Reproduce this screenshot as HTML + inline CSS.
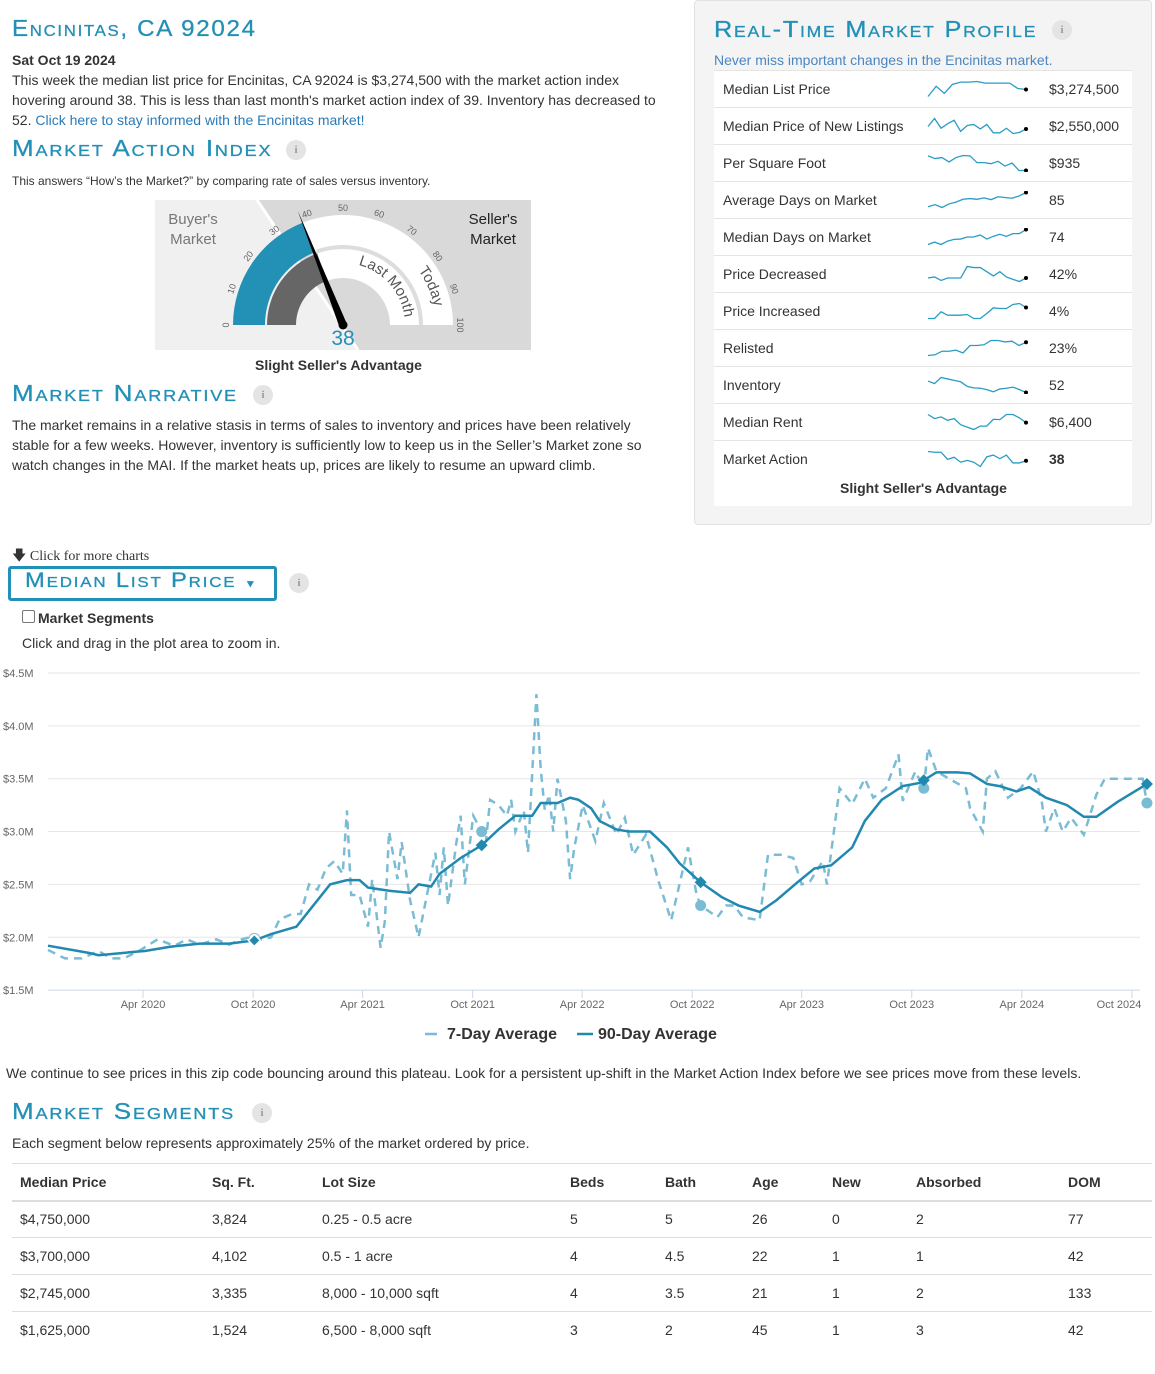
<!DOCTYPE html>
<html><head><meta charset="utf-8"><style>
body{margin:0;width:1155px;height:1374px;position:relative;background:#fff;font-family:"Liberation Sans",sans-serif;color:#333;overflow:hidden}
.a{position:absolute;white-space:nowrap}
.h{position:absolute;white-space:nowrap;color:#2390b6;font-variant:small-caps;font-size:23px;letter-spacing:1.6px;font-family:"Liberation Sans",sans-serif;transform-origin:left center;transform:scaleX(1.1);-webkit-text-stroke:0.3px #2390b6}
.p{font-size:14px;line-height:20px}
.lnk{color:#2a7ab8}
.info{position:absolute;width:20px;height:20px;border-radius:50%;background:#e4e4e4;color:#999;font:bold 11px "Liberation Serif",serif;text-align:center;line-height:20px}
table{border-collapse:collapse}
</style></head><body>

<div class="h" style="left:12px;top:15px;transform:scaleX(1.05)">Encinitas, CA 92024</div>
<div class="a p" style="left:12px;top:50px;font-weight:bold">Sat Oct 19 2024</div>
<div class="a p" style="left:12px;top:70px;white-space:normal;width:660px">This week the median list price for Encinitas, CA 92024 is $3,274,500 with the market action index hovering around 38. This is less than last month's market action index of 39. Inventory has decreased to 52. <span class="lnk">Click here to stay informed with the Encinitas market!</span></div>

<div class="h" style="left:12px;top:135px;transform:scaleX(1.13)">Market Action Index</div>
<div class="info" style="left:286px;top:140px">i</div>
<div class="a" style="left:12px;top:174px;font-size:12px">This answers “How’s the Market?” by comparing rate of sales versus inventory.</div>

<svg class="a" style="left:0;top:0" width="700" height="380" id="gauge"></svg>
<div class="a" style="left:255px;top:357px;font-size:14px;font-weight:bold">Slight Seller's Advantage</div>

<div class="h" style="left:12px;top:380px;transform:scaleX(1.13)">Market Narrative</div>
<div class="info" style="left:253px;top:385px">i</div>
<div class="a p" style="left:12px;top:415px;white-space:normal;width:635px">The market remains in a relative stasis in terms of sales to inventory and prices have been relatively stable for a few weeks. However, inventory is sufficiently low to keep us in the Seller’s Market zone so watch changes in the MAI. If the market heats up, prices are likely to resume an upward climb.</div>

<!-- Right panel -->
<div class="a" style="left:694px;top:0px;width:456px;height:523px;background:#f4f4f4;border:1px solid #e2e2e2;border-radius:4px"></div>
<div class="h" style="left:714px;top:16px;">Real-Time Market Profile</div>
<div class="info" style="left:1052px;top:20px">i</div>
<div class="a" style="left:714px;top:52px;font-size:14px;color:#4a86c0">Never miss important changes in the Encinitas market.</div>
<div class="a" style="left:714px;top:70px;width:418px;height:436px;background:#fff"></div>
<div id="profileRows"></div>
<div class="a" style="left:840px;top:480px;font-size:14px;font-weight:bold">Slight Seller's Advantage</div>

<!-- chart controls -->
<div class="a" style="left:12px;top:545px;font:14px 'Liberation Serif',serif">🡇 Click for more charts</div>
<div class="a" style="left:8px;top:566px;width:263px;height:29px;border:3px solid #2390b6;border-radius:3px"></div>
<div class="h" style="left:25px;top:569px;font-size:21px;transform:scaleX(1.13)">Median List Price <span style="font-size:10px">▼</span></div>
<div class="info" style="left:289px;top:573px">i</div>
<div class="a" style="left:22px;top:610px;width:11px;height:11px;border:1px solid #777;border-radius:2px;background:#fff"></div>
<div class="a" style="left:38px;top:610px;font-size:14px;font-weight:bold">Market Segments</div>
<div class="a" style="left:22px;top:635px;font-size:14px">Click and drag in the plot area to zoom in.</div>

<svg class="a" style="left:0;top:660px" width="1155" height="400" id="chart"></svg>

<div class="a p" style="left:6px;top:1063px">We continue to see prices in this zip code bouncing around this plateau. Look for a persistent up-shift in the Market Action Index before we see prices move from these levels.</div>

<div class="h" style="left:12px;top:1098px;transform:scaleX(1.13)">Market Segments</div>
<div class="info" style="left:252px;top:1103px">i</div>
<div class="a p" style="left:12px;top:1133px">Each segment below represents approximately 25% of the market ordered by price.</div>

<div class="a" style="left:12px;top:1163px;width:1140px" id="segTable"></div>

<script>
// ---------- Gauge ----------
const gaugeToday = 38;
const gaugeLastMonth = 39;
const gaugeTicks = [0,10,20,30,40,50,60,70,80,90,100];
(function(){
  const s = document.getElementById('gauge');
  const NS='http://www.w3.org/2000/svg';
  const cx=343, cy=325;
  function mk(t,at){const e=document.createElementNS(NS,t);for(const k in at)e.setAttribute(k,at[k]);s.appendChild(e);return e;}
  function pt(r,v){const th=Math.PI*(1-v/100);return [cx+r*Math.cos(th), cy-r*Math.sin(th)];}
  function band(r1,r2,v1,v2,fill,name){
    const a=pt(r2,v1),b=pt(r2,v2),c=pt(r1,v2),d=pt(r1,v1);
    const e=mk('path',{d:`M${a} A${r2},${r2} 0 0 1 ${b} L${c} A${r1},${r1} 0 0 0 ${d} Z`,fill:fill});
    
    
    return e;
  }
  const bl=mk('polygon',{points:'155,200 257,200 358,350 155,350',fill:'#f0f0f0'});
  
  
  const br=mk('polygon',{points:'257,200 531,200 531,350 358,350',fill:'#d9d9d9'});
  
  
  mk('line',{x1:257,y1:200,x2:358,y2:350,stroke:'#fff','stroke-width':3});
  band(78,110,0,gaugeToday,'#2390b6','today-arc');
  band(78,110,gaugeToday,100,'#fff','today-track');
  band(47,76,0,gaugeLastMonth,'#666','last-month-arc');
  band(47,76,gaugeLastMonth,100,'#fff','last-month-track');
  band(76,80,gaugeLastMonth,100,'#ddd','track-separator');
  gaugeTicks.forEach(v=>{
    const p=pt(117,v);
    const t=mk('text',{x:p[0],y:p[1]+3,'font-size':9,fill:'#666','text-anchor':'middle',transform:`rotate(${v*1.8-90} ${p[0]} ${p[1]})`});
    t.textContent=v;
    
    
  });
  const pA=pt(62,58),pB=pt(62,98);
  mk('path',{id:'lmArc',d:`M${pA} A62,62 0 0 1 ${pB}`,fill:'none'});
  const qA=pt(93,80),qB=pt(93,99);
  mk('path',{id:'tdArc',d:`M${qA} A93,93 0 0 1 ${qB}`,fill:'none'});
  const t1=mk('text',{'font-size':15,fill:'#555'});
  t1.innerHTML='<textPath href="#lmArc">Last Month</textPath>';
  
  
  const t2=mk('text',{'font-size':15,fill:'#555'});
  t2.innerHTML='<textPath href="#tdArc">Today</textPath>';
  
  
  const tip=pt(123,gaugeToday), th=Math.PI*(1-gaugeToday/100);
  const nx=Math.sin(th)*4, ny=Math.cos(th)*4;
  const nd=mk('polygon',{points:`${cx+nx},${cy+ny} ${tip[0]},${tip[1]} ${cx-nx},${cy-ny}`,fill:'#000'});
  
  
  mk('circle',{cx:cx,cy:cy,r:4.5,fill:'#000'});
  const lt=[['Buyer\'s',193,224,'#777'],['Market',193,244,'#777'],['Seller\'s',493,224,'#222'],['Market',493,244,'#222']];
  lt.forEach(l=>{const t=mk('text',{x:l[1],y:l[2],'font-size':15,fill:l[3],'text-anchor':'middle'});t.textContent=l[0];
    
    });
  const v=mk('text',{x:343,y:345,'font-size':21,fill:'#2390b6','text-anchor':'middle'});v.textContent=gaugeToday;
  
  
})();

// ---------- Profile rows + sparklines ----------
const profileLabels = ['Median List Price','Median Price of New Listings','Per Square Foot','Average Days on Market','Median Days on Market','Price Decreased','Price Increased','Relisted','Inventory','Median Rent','Market Action'];
const profileValues = ['$3,274,500','$2,550,000','$935','85','74','42%','4%','23%','52','$6,400','38'];
const sparkListPrice = [0,32,10,38,45,45,47,42,42,42,42,25,22];
const sparkNewListings = [20,43,15,28,38,6,23,26,13,26,2,2,15,0,3,13];
const sparkPerSqft = [43,35,38,25,38,44,43,23,23,20,27,13,22,0,0];
const sparkAvgDom = [2,8,0,10,15,23,25,23,27,22,30,28,26,32,42];
const sparkMedDom = [0,7,0,10,15,16,22,22,28,16,24,30,24,32,32,44];
const sparkPriceDec = [10,13,3,10,10,10,43,40,40,28,16,28,13,6,0,10];
const sparkPriceInc = [0,0,20,10,10,10,12,0,0,15,32,30,30,42,45,33];
const sparkRelisted = [0,2,12,12,15,7,28,28,30,42,42,38,40,28,37];
const sparkInventory = [32,25,42,38,34,30,17,13,12,8,2,10,12,15,8,0];
const sparkRent = [44,32,37,27,32,14,7,0,10,10,30,29,44,44,34,20];
const sparkMai = [42,40,40,20,26,12,17,12,0,27,32,22,32,10,10,16];
(function(){
  const sparks=[sparkListPrice,sparkNewListings,sparkPerSqft,sparkAvgDom,sparkMedDom,sparkPriceDec,sparkPriceInc,sparkRelisted,sparkInventory,sparkRent,sparkMai];
  const c=document.getElementById('profileRows');
  let h='';
  profileLabels.forEach((lab,i)=>{
    const top=70+37*i;
    const d=sparks[i], mn=Math.min(...d), mx=Math.max(...d);
    const pts=d.map((v,j)=>[928+j*(98/(d.length-1)), 16-(v-mn)/(mx-mn||1)*15+0.5]);
    const last=pts[pts.length-1];
    h+=`<div class="a" style="left:714px;top:${top}px;width:418px;height:0;border-top:1px solid #e4e4e4"></div>`;
    h+=`<div class="a" style="left:723px;top:${top+11}px;font-size:14px">${lab}</div>`;
    h+=`<svg class="a" style="left:0;top:${top+10}px" width="1040" height="18"><polyline points="${pts.map(p=>p.join(',')).join(' ')}" fill="none" stroke="#2a9cc4" stroke-width="1.3"/><circle cx="${last[0]}" cy="${last[1]}" r="2" fill="#000"/></svg>`;
    h+=`<div class="a" style="left:1049px;top:${top+11}px;font-size:14px;${i==10?'font-weight:bold':''}">${profileValues[i]}</div>`;
  });
  c.innerHTML=h;
})();

// ---------- Main chart ----------
const yTicks = [1.5,2.0,2.5,3.0,3.5,4.0,4.5];
const yTickLabels = ['$1.5M','$2.0M','$2.5M','$3.0M','$3.5M','$4.0M','$4.5M'];
const xTickDates = ['2020-04-01','2020-10-01','2021-04-01','2021-10-01','2022-04-01','2022-10-01','2023-04-01','2023-10-01','2024-04-01','2024-10-01'];
const xTickLabels = ['Apr 2020','Oct 2020','Apr 2021','Oct 2021','Apr 2022','Oct 2022','Apr 2023','Oct 2023','Apr 2024','Oct 2024'];
// weeks since 2019-10-26
const avg90Weeks = [0,10,12,20,23,29,36,43,49,53,59,62,67,71,74,76,81,86,88,91,93,98,103,107,111,115,117,121,124,126,129,131,135,138,143,147,150,155,160,164,169,173,178,182,186,191,194,198,203,207,211,216,219,223,226,230,233,237,242,246,249,254,261];
const avg90Values = [1.92,1.85,1.83,1.86,1.87,1.91,1.94,1.94,1.97,2.03,2.10,2.25,2.50,2.54,2.54,2.47,2.44,2.42,2.50,2.48,2.60,2.75,2.87,3.02,3.15,3.15,3.27,3.27,3.32,3.30,3.22,3.10,3.02,3.00,3.00,2.85,2.70,2.52,2.38,2.30,2.24,2.35,2.52,2.65,2.68,2.85,3.10,3.30,3.43,3.46,3.56,3.56,3.55,3.45,3.43,3.38,3.42,3.32,3.25,3.14,3.14,3.28,3.45];
const avg7Weeks = [0,4,8,12,15,18,22,26,30,33,36,40,43,46,48,50,53,55,58,60,62,64,66,68,70,71,72,74,76,77,79,80,81,83,84,86,88,90,92,93,94,95,97,98,99,101,103,104,105,107,109,110,111,113,114,116,117,118,119,120,121,123,124,125,127,130,132,135,137,139,142,145,148,152,154,155,159,161,163,165,169,171,174,177,179,181,184,185,188,191,194,196,199,202,203,206,208,209,211,214,218,219,222,223,225,228,231,234,236,237,239,241,243,246,249,251,255,260,261];
const avg7Values = [1.88,1.80,1.80,1.87,1.80,1.80,1.88,1.98,1.92,1.98,1.93,1.98,1.93,1.98,2.00,1.97,2.00,2.17,2.22,2.22,2.50,2.45,2.65,2.72,2.60,3.20,2.40,2.40,2.10,2.55,1.90,2.15,3.00,2.55,2.90,2.35,2.00,2.40,2.80,2.40,2.85,2.30,2.90,3.15,2.50,3.15,3.00,2.90,3.30,3.25,3.15,3.30,3.00,3.20,2.80,4.30,3.60,3.20,3.35,3.00,3.50,3.10,2.55,2.85,3.25,2.91,3.27,2.97,3.13,2.78,2.97,2.53,2.16,2.85,2.41,2.30,2.19,2.30,2.30,2.19,2.16,2.78,2.78,2.75,2.50,2.53,2.72,2.50,3.41,3.26,3.50,3.32,3.41,3.73,3.29,3.57,3.41,3.79,3.57,3.50,3.41,3.22,3.00,3.50,3.57,3.32,3.41,3.57,3.29,3.00,3.22,3.00,3.13,2.97,3.35,3.50,3.50,3.50,3.27];
const markerWeeks = [49,103,155,208,261];
(function(){
  const s=document.getElementById('chart');
  const NS='http://www.w3.org/2000/svg';
  const OY=660;
  function mk(t,at){const e=document.createElementNS(NS,t);for(const k in at)e.setAttribute(k,at[k]);s.appendChild(e);return e;}
  const x0=48, pxDay=0.6015;
  const xW=w=>x0+w*7*pxDay;
  const base=new Date('2019-10-26T00:00:00Z');
  const xD=d=>x0+(new Date(d+'T00:00:00Z')-base)/864e5*pxDay;
  const yV=v=>673+(4.5-v)*105.7-OY;
  yTicks.forEach((v,i)=>{
    const g=mk('line',{x1:x0,x2:1140,y1:yV(v),y2:yV(v),stroke:i==0?'#ccd6eb':'#e6e6e6','stroke-width':1});
    
    
    const t=mk('text',{x:3,y:yV(v)+4,'font-size':11,fill:'#666'});t.textContent=yTickLabels[i];
    
    
  });
  xTickDates.forEach((d,i)=>{
    const x=xD(d);
    mk('line',{x1:x,x2:x,y1:yV(1.5),y2:yV(1.5)+8,stroke:'#ccd6eb'});
    const t=mk('text',{x:Math.min(x,1119),y:yV(1.5)+18,'font-size':11,fill:'#666','text-anchor':'middle'});t.textContent=xTickLabels[i];
    
    
  });
  const p7=mk('polyline',{points:avg7Weeks.map((w,i)=>xW(w)+','+yV(avg7Values[i])).join(' '),fill:'none',stroke:'#7bbcd5','stroke-width':2.5,'stroke-dasharray':'8,6'});
  
  
  const p90=mk('polyline',{points:avg90Weeks.map((w,i)=>xW(w)+','+yV(avg90Values[i])).join(' '),fill:'none',stroke:'#2188b0','stroke-width':2.5});
  
  
  function interp(ws,vs,w){for(let i=1;i<ws.length;i++){if(ws[i]>=w){const f=(w-ws[i-1])/(ws[i]-ws[i-1]||1);return vs[i-1]+f*(vs[i]-vs[i-1]);}}return vs[vs.length-1];}
  markerWeeks.forEach((w,i)=>{
    const x=xW(w);
    const c=mk('circle',{cx:x,cy:yV(interp(avg7Weeks,avg7Values,w)),r:5.5,fill:i==0?'#fff':'#7bbcd5',stroke:i==0?'#7bbcd5':'none'});
    
    
    const y=yV(interp(avg90Weeks,avg90Values,w));
    const dm=mk('polygon',{points:`${x},${y-6} ${x+6},${y} ${x},${y+6} ${x-6},${y}`,fill:'#2188b0',stroke:i==0?'#fff':'none','stroke-width':1.5});
    
    
  });
  // legend
  mk('line',{x1:425,x2:437,y1:374,y2:374,stroke:'#7bbcd5','stroke-width':2.5});
  const l1=mk('text',{x:447,y:379,'font-size':16,'font-weight':'bold',fill:'#333'});l1.textContent='7-Day Average';
  
  
  mk('line',{x1:577,x2:593,y1:374,y2:374,stroke:'#2188b0','stroke-width':2.5});
  const l2=mk('text',{x:598,y:379,'font-size':16,'font-weight':'bold',fill:'#333'});l2.textContent='90-Day Average';
  
  
})();

// ---------- Segments table ----------
const segHeaders = ['Median Price','Sq. Ft.','Lot Size','Beds','Bath','Age','New','Absorbed','DOM'];
const segRows = [
 ['$4,750,000','3,824','0.25 - 0.5 acre','5','5','26','0','2','77'],
 ['$3,700,000','4,102','0.5 - 1 acre','4','4.5','22','1','1','42'],
 ['$2,745,000','3,335','8,000 - 10,000 sqft','4','3.5','21','1','2','133'],
 ['$1,625,000','1,524','6,500 - 8,000 sqft','3','2','45','1','3','42']];
(function(){
  const cols=[8,200,310,558,653,740,820,904,1056];
  const c=document.getElementById('segTable');
  let h='<div class="a" style="left:0;top:0;width:1140px;border-top:1px solid #ddd"></div>';
  segHeaders.forEach((t,i)=>{h+=`<div class="a" style="left:${cols[i]}px;top:11px;font-size:14px;font-weight:bold">${t}</div>`;});
  segRows.forEach((r,j)=>{
    const top=37*(j+1);
    h+=`<div class="a" style="left:0;top:${top}px;width:1140px;border-top:${j==0?2:1}px solid #ddd"></div>`;
    r.forEach((t,i)=>{h+=`<div class="a" style="left:${cols[i]}px;top:${top+11}px;font-size:14px">${t}</div>`;});
  });
  c.innerHTML=h;
})();
</script>
</body></html>
